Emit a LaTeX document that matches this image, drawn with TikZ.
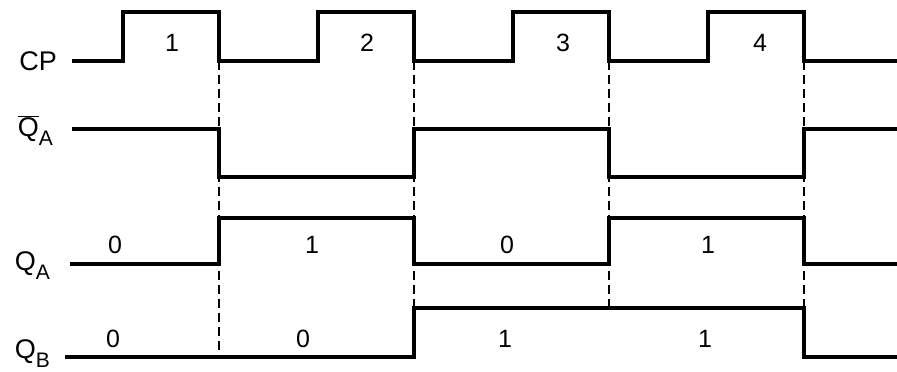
\documentclass[tikz,border=0pt]{standalone}
\usepackage{fontspec}
\setmainfont{Liberation Sans}
\newcommand{\lowsub}[1]{\raisebox{-9pt}{\fontsize{21}{21}\selectfont #1}}
\tikzset{
    wave/.style={line width=3.4pt, line join=miter},
    guide/.style={line width=2pt, dash pattern=on 9pt off 5pt},
    signame/.style={font=\fontsize{27}{27}\selectfont, anchor=base east, inner sep=0pt},
    bit/.style={font=\fontsize{25}{25}\selectfont, inner sep=0pt},
    common settings/.style={x=1pt, y=-1pt}
}

\begin{document}
\begin{tikzpicture}[common settings]
    \useasboundingbox (0,0) rectangle (897,372);

    \def\T{195}    % clock period
    \def\r{123}    % first rising edge of CP
    \def\f{219}    % first falling edge of CP
    \def\xe{897}   % right end of every trace
    % high / low level of each trace
    \def\cph{12}  \def\cpl{61}
    \def\nah{129} \def\nal{177}
    \def\qah{218} \def\qal{264}
    \def\qbh{308} \def\qbl{357}

    % Remaining clock edges
    \pgfmathsetmacro{\rii}{\r + \T}
    \pgfmathsetmacro{\riii}{\r + 2*\T}
    \pgfmathsetmacro{\riv}{\r + 3*\T}
    \pgfmathsetmacro{\fii}{\f + \T}
    \pgfmathsetmacro{\fiii}{\f + 2*\T}
    \pgfmathsetmacro{\fiv}{\f + 3*\T}

    % Dashed guides down from the falling edges
    \draw[guide] (\f,\cpl) -- (\f,\qbl);
    \draw[guide] (\fii,\cpl) -- (\fii,\qbl);
    \draw[guide] (\fiii,\cpl) -- (\fiii,\qbh);
    \draw[guide] (\fiv,\cpl) -- (\fiv,\qbh);

    % Clock pulses
    \draw[wave] (72,\cpl) -| (\r,\cph) -| (\f,\cpl) -| (\rii,\cph) -| (\fii,\cpl)
        -| (\riii,\cph) -| (\fiii,\cpl) -| (\riv,\cph) -| (\fiv,\cpl) -- (\xe,\cpl);

    % Complement of Q_A
    \draw[wave] (72,\nah) -| (\f,\nal) -| (\fii,\nah) -| (\fiii,\nal) -| (\fiv,\nah) -- (\xe,\nah);

    % Q_A
    \draw[wave] (70,\qal) -| (\f,\qah) -| (\fii,\qal) -| (\fiii,\qah) -| (\fiv,\qal) -- (\xe,\qal);

    % Q_B
    \draw[wave] (65,\qbl) -| (\fii,\qbh) -| (\fiv,\qbl) -- (\xe,\qbl);

    % Signal names
    \node[signame] (cp) at (57,70) {CP};
    \node[signame] (nqa) at (53,136) {$\overline{\mbox{Q}}$\lowsub{A}};
    \node[signame] (qa) at (50,270) {Q\lowsub{A}};
    \node[signame] (qb) at (50,358) {Q\lowsub{B}};

    % Pulse numbers
    \foreach \x/\txt [count=\i] in {172/1, 367/2, 563/3, 760/4}
        \node[bit] (pulse\i) at (\x,43) {\txt};

    % Counter states
    \foreach \x/\txt [count=\i] in {115/0, 312/1, 507/0, 708/1}
        \node[bit] (qa\i) at (\x,245) {\txt};
    \foreach \x/\txt [count=\i] in {113/0, 303/0, 505/1, 705/1}
        \node[bit] (qb\i) at (\x,339) {\txt};
\end{tikzpicture}
\end{document}
